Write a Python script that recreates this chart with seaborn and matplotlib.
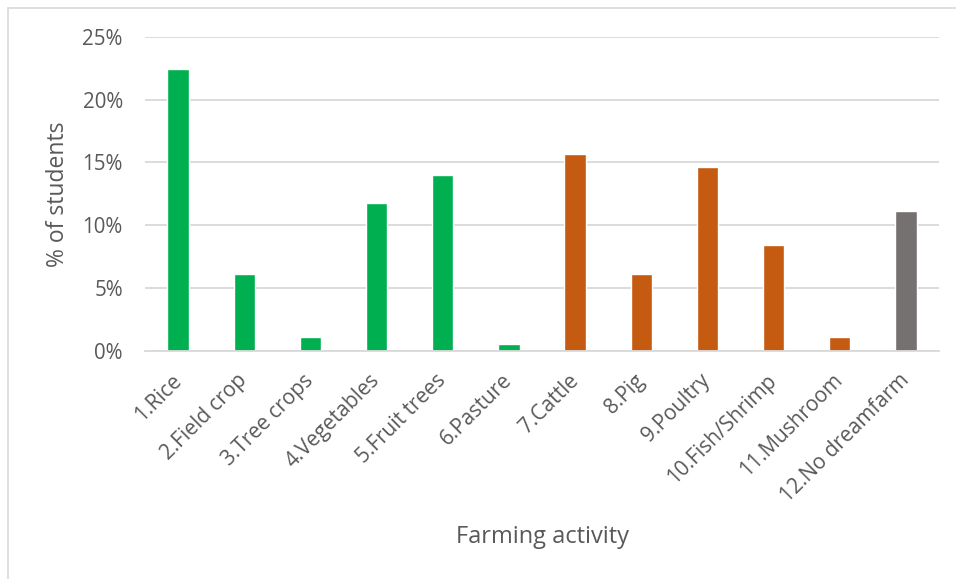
import matplotlib
matplotlib.use("Agg")
import matplotlib.pyplot as plt
import seaborn as sns
import pandas as pd
from matplotlib.lines import Line2D
from matplotlib.ticker import FuncFormatter

categories = ["1.Rice", "2.Field crop", "3.Tree crops", "4.Vegetables", "5.Fruit trees",
              "6.Pasture", "7.Cattle", "8.Pig", "9.Poultry", "10.Fish/Shrimp",
              "11.Mushroom", "12.No dreamfarm"]
percent_students = [22.4, 6.1, 1.1, 11.8, 14.0, 0.55, 15.7, 6.1, 14.6, 8.4, 1.1, 11.1]
groups = ["crop"] * 6 + ["animal"] * 5 + ["none"]
group_colors = {"crop": "#00B050", "animal": "#C55A11", "none": "#767171"}

df = pd.DataFrame({"category": categories, "value": percent_students, "group": groups})
palette = {c: group_colors[g] for c, g in zip(categories, groups)}

sns.set_theme(style="white")
plt.rcParams["font.family"] = ["Open Sans", "DejaVu Sans"]

fig = plt.figure(figsize=(9.56, 5.79), dpi=100)
ax = fig.add_axes([145/956, 1 - 351/579, (939-145)/956, (351-36.7)/579])

sns.barplot(data=df, x="category", y="value", hue="category", palette=palette,
            width=0.32, legend=False, ax=ax, saturation=1)

ax.set_ylim(0, 25)
ax.set_yticks([0, 5, 10, 15, 20, 25])
ax.yaxis.set_major_formatter(FuncFormatter(lambda v, p: f"{int(v)}%"))
ax.grid(axis="y", color="#D9D9D9", linewidth=1.3)
ax.set_axisbelow(True)
for s in ["top", "right", "left"]:
    ax.spines[s].set_visible(False)
ax.spines["bottom"].set_color("#D9D9D9")
ax.spines["bottom"].set_linewidth(1.3)

ax.tick_params(axis="y", length=0, pad=16, labelsize=14.8, labelcolor="#595959")
ax.tick_params(axis="x", length=0, pad=19, labelsize=15, labelcolor="#595959")
for lbl in ax.get_xticklabels():
    lbl.set_rotation(45)
    lbl.set_ha("right")
    lbl.set_va("center")
    lbl.set_rotation_mode("anchor")

ax.set_ylabel("% of students", fontsize=16.5, color="#595959")
ax.yaxis.label.set_va("center")
ax.yaxis.set_label_coords(-0.11, 0.5)
ax.set_xlabel("Farming activity", fontsize=17, color="#595959")
ax.xaxis.label.set_va("center")
ax.xaxis.set_label_coords(0.5, -0.592)

fig.add_artist(Line2D([7.5/956, 7.5/956], [0, 1 - 7.5/579], transform=fig.transFigure,
                      color="#D9D9D9", linewidth=1.2))
fig.add_artist(Line2D([7.5/956, 1], [1 - 7.5/579, 1 - 7.5/579], transform=fig.transFigure,
                      color="#D9D9D9", linewidth=1.2))

fig.savefig("out.png", dpi=100)
